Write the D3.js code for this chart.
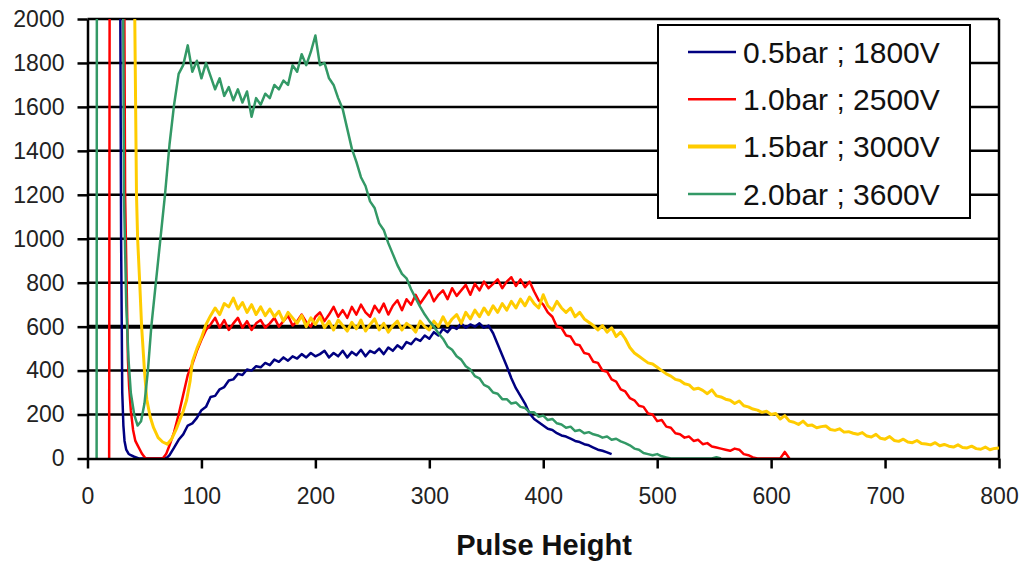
<!DOCTYPE html>
<html>
<head>
<meta charset="utf-8">
<script src="https://d3js.org/d3.v7.min.js"></script>
<style>
  body { margin: 0; background: #fff; }
  svg { display: block; font-family: "Liberation Sans", Arial, sans-serif; }
</style>
</head>
<body>
<div id="chart"></div>
<script>
// channel steps for the counts arrays below
const step = 4;

const xTicks = [0, 100, 200, 300, 400, 500, 600, 700, 800];
const yTicks = [0, 200, 400, 600, 800, 1000, 1200, 1400, 1600, 1800, 2000];

const seriesNames = ["0.5bar ; 1800V", "1.0bar ; 2500V", "1.5bar ; 3000V", "2.0bar ; 3600V"];

// low channel noise peak, [channel, counts]
const blueHead = [[27.5, 4000], [29.5, 1000], [30.5, 300], [31.5, 150], [32.5, 80], [34, 40], [36, 22], [38, 15], [41, 8], [45, 0], [66, 0], [70, 5]];
const blueStart = 72;
const blueCounts = [15, 50, 85, 110, 150, 160, 185, 220, 235, 280, 285, 315, 325, 355, 360, 385, 380, 405, 400, 420,
  415, 435, 425, 450, 440, 460, 445, 465, 455, 475, 460, 480, 465, 475, 490, 460, 480, 465, 490, 460,
  485, 470, 495, 465, 490, 480, 500, 475, 505, 490, 515, 500, 530, 520, 545, 535, 560, 545, 575, 560,
  590, 575, 600, 590, 615, 595, 610, 600, 615, 595, 605, 570, 520, 470, 420, 365, 320, 285, 250, 205,
  180, 165, 150, 135, 130, 115, 105, 100, 90, 80, 75, 65, 60, 50, 40, 35, 28, 20];

const redHead = [[18, 0], [19, 0], [20, 5000], [30, 5000], [33, 1200], [35.5, 450], [36.5, 330], [38, 220], [40, 130], [42, 80], [44, 60], [46, 40], [48, 20], [51, 0], [66, 0], [69, 20]];
const redStart = 72;
const redCounts = [60, 120, 200, 290, 380, 430, 490, 540, 585, 610, 640, 595, 630, 585, 615, 640, 595, 625, 585, 615,
  630, 595, 615, 640, 600, 625, 650, 605, 625, 655, 620, 600, 645, 665, 625, 655, 690, 645, 675, 640,
  690, 655, 700, 665, 645, 695, 665, 705, 655, 695, 720, 675, 725, 700, 745, 705, 735, 765, 715, 745,
  765, 725, 775, 740, 765, 790, 745, 795, 765, 805, 775, 795, 815, 775, 805, 825, 785, 815, 780, 805,
  760, 720, 700, 665, 645, 600, 595, 560, 555, 520, 515, 480, 475, 440, 435, 400, 395, 360, 350, 315,
  305, 275, 265, 240, 235, 205, 200, 170, 175, 145, 140, 115, 110, 95, 100, 80, 85, 65, 70, 55,
  50, 45, 40, 35, 45, 40, 20, 15, 5, 0, 0, 0, 0, 0, 0, 30, 0];

const yellowHead = [[39.5, 5000], [41.5, 2000], [43, 1200], [44, 1000], [46, 780], [47.5, 600], [50, 400], [52, 270], [55, 190], [58, 140], [62, 95], [66, 75], [70, 65], [74, 90], [78, 135], [81, 175], [84, 215], [87, 266], [90, 350]];
const yellowStart = 92;
const yellowCounts = [440, 500, 550, 610, 650, 685, 655, 705, 690, 730, 680, 710, 665, 700, 655, 690, 650, 680, 645, 670,
  625, 665, 640, 615, 650, 600, 640, 610, 645, 595, 625, 585, 630, 605, 580, 620, 590, 630, 580, 610,
  635, 585, 615, 575, 605, 625, 585, 615, 600, 575, 625, 600, 585, 625, 600, 645, 605, 635, 655, 615,
  665, 635, 675, 645, 685, 655, 695, 665, 705, 675, 715, 685, 725, 695, 735, 705, 685, 745, 695, 675,
  715, 685, 665, 685, 645, 665, 635, 620, 605, 585, 605, 575, 595, 555, 575, 545, 505, 480, 465, 450,
  435, 430, 415, 400, 385, 375, 360, 355, 340, 335, 315, 320, 310, 295, 312, 285, 280, 270, 265, 250,
  262, 240, 235, 225, 220, 210, 215, 200, 205, 180, 195, 170, 165, 155, 170, 150, 152, 140, 145, 148,
  132, 128, 135, 120, 122, 115, 110, 118, 102, 98, 110, 92, 88, 100, 82, 78, 88, 75, 72, 82,
  68, 66, 62, 72, 58, 64, 56, 52, 62, 50, 48, 56, 45, 42, 52, 40, 46, 48];

const greenHead = [[8, 0], [8.5, 5000], [29, 5000], [32, 1200], [34, 700], [36, 450], [38, 300], [41, 200], [44, 150], [47, 170], [50, 250], [53, 400], [56, 600], [60, 800]];
const greenStart = 64;
const greenCounts = [1000, 1200, 1430, 1610, 1750, 1790, 1880, 1760, 1810, 1730, 1800, 1740, 1680, 1730, 1650, 1690, 1630, 1680, 1620, 1670,
  1555, 1640, 1610, 1660, 1640, 1700, 1680, 1720, 1700, 1790, 1760, 1840, 1790, 1850, 1925, 1790, 1800, 1730, 1700, 1640,
  1590, 1500, 1410, 1350, 1280, 1240, 1170, 1140, 1070, 1040, 980, 930, 880, 840, 820, 770, 730, 690, 655, 625,
  600, 570, 545, 510, 495, 465, 450, 420, 405, 375, 365, 335, 325, 300, 295, 270, 270, 250, 255, 235,
  230, 210, 210, 190, 195, 175, 180, 160, 155, 140, 145, 125, 130, 115, 120, 110, 105, 95, 100, 85,
  90, 78, 70, 60, 45, 40, 25, 20, 15, 20, 10, 5, 0, 0, 0, 0, 0, 0, 0, 0,
  0, 0, 6, 0];

const colors = ["#000080", "#ff0000", "#ffcc00", "#339966"];
const lineWidths = [2.5, 2.5, 3, 2.5];
const legendWidths = [2.5, 2.5, 4, 2.5];

function buildSeries(head, start, counts) {
  return head.concat(counts.map((c, i) => [start + i * step, c]));
}

const series = [
  buildSeries(blueHead, blueStart, blueCounts),
  buildSeries(redHead, redStart, redCounts),
  buildSeries(yellowHead, yellowStart, yellowCounts),
  buildSeries(greenHead, greenStart, greenCounts)
];

const width = 1021, height = 563;
const plotLeft = 87.5, plotRight = 999, plotTop = 19, plotBottom = 458.5;

const svg = d3.select("#chart").append("svg")
  .attr("width", width)
  .attr("height", height);

const x = d3.scaleLinear().domain([0, 800]).range([plotLeft, plotRight]);
const y = d3.scaleLinear().domain([0, 2000]).range([plotBottom, plotTop]);

// gridlines
svg.append("g")
  .selectAll("line")
  .data(yTicks.filter(d => d > 0))
  .join("line")
  .attr("x1", plotLeft)
  .attr("x2", plotRight)
  .attr("y1", d => y(d))
  .attr("y2", d => y(d))
  .attr("stroke", "#000")
  .attr("stroke-width", d => d === 600 ? 4 : 2.5);

// right border of plot area
svg.append("line")
  .attr("x1", plotRight).attr("x2", plotRight)
  .attr("y1", plotTop).attr("y2", plotBottom)
  .attr("stroke", "#000")
  .attr("stroke-width", 2.5);

svg.append("defs").append("clipPath")
  .attr("id", "plotClip")
  .append("rect")
  .attr("x", plotLeft)
  .attr("y", plotTop)
  .attr("width", plotRight - plotLeft)
  .attr("height", plotBottom - plotTop);

const line = d3.line()
  .x(d => x(d[0]))
  .y(d => y(d[1]));

svg.append("g")
  .attr("clip-path", "url(#plotClip)")
  .selectAll("path")
  .data(series)
  .join("path")
  .attr("d", line)
  .attr("fill", "none")
  .attr("stroke", (d, i) => colors[i])
  .attr("stroke-width", (d, i) => lineWidths[i])
  .attr("stroke-linejoin", "round");

// axes
const yAxis = d3.axisLeft(y)
  .tickValues(yTicks)
  .tickFormat(d3.format("d"))
  .tickSize(10)
  .tickSizeOuter(0)
  .tickPadding(13);

const xAxis = d3.axisBottom(x)
  .tickValues(xTicks)
  .tickFormat(d3.format("d"))
  .tickSize(10)
  .tickSizeOuter(0)
  .tickPadding(19);

const gy = svg.append("g")
  .attr("transform", `translate(${plotLeft},0)`)
  .call(yAxis);

const gx = svg.append("g")
  .attr("transform", `translate(0,${plotBottom})`)
  .call(xAxis);

[gx, gy].forEach(g => {
  g.select(".domain").attr("stroke", "#000").attr("stroke-width", 2.5);
  g.selectAll(".tick line").attr("stroke", "#000").attr("stroke-width", 2.5);
  g.selectAll(".tick text")
    .attr("fill", "#222")
    .style("font-size", "23px")
    .style("font-family", "'Liberation Sans', Arial, sans-serif");
});

svg.append("text")
  .attr("x", 544)
  .attr("y", 555)
  .attr("text-anchor", "middle")
  .attr("fill", "#111")
  .style("font-size", "29px")
  .style("font-weight", "bold")
  .text("Pulse Height");

// legend
const legend = svg.append("g");

legend.append("rect")
  .attr("x", 658)
  .attr("y", 25)
  .attr("width", 312)
  .attr("height", 193)
  .attr("fill", "#fff")
  .attr("stroke", "#000")
  .attr("stroke-width", 2);

const rows = legend.selectAll("g.row")
  .data(seriesNames)
  .join("g")
  .attr("class", "row")
  .attr("transform", (d, i) => `translate(0,${52 + i * 47.3})`);

rows.append("line")
  .attr("x1", 688)
  .attr("x2", 736)
  .attr("stroke", (d, i) => colors[i])
  .attr("stroke-width", (d, i) => legendWidths[i]);

rows.append("text")
  .attr("x", 743)
  .attr("dy", "0.36em")
  .attr("fill", "#111")
  .style("font-size", "30px")
  .text(d => d);
</script>
</body>
</html>
